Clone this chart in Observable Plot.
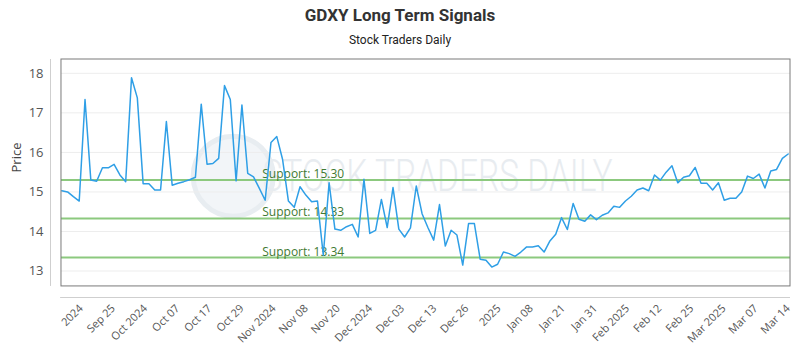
<!DOCTYPE html>
<html><head><meta charset="utf-8">
<script src="https://cdn.jsdelivr.net/npm/d3@7"></script>
<script src="https://cdn.jsdelivr.net/npm/@observablehq/plot@0.6"></script>
<style>
body{margin:0;background:#fff;width:800px;height:350px;overflow:hidden;position:relative}
#title{position:absolute;left:0;top:3px;width:800px;text-align:center;font:bold 17px Roboto, sans-serif;color:#333;line-height:24px}
#subtitle{position:absolute;left:0;top:32px;width:800px;text-align:center;font:12px Roboto, sans-serif;color:#222;line-height:16px}
#chart{position:absolute;left:0;top:50px}
</style></head>
<body>
<div id="title">GDXY Long Term Signals</div>
<div id="subtitle">Stock Traders Daily</div>
<div id="chart"></div>
<script>
const prices = [
15.03, 15.00, 14.88, 14.77, 17.34, 15.30, 15.27, 15.61, 15.61, 15.70,
15.43, 15.26, 17.89, 17.38, 15.21, 15.21, 15.05, 15.05, 16.78, 15.17,
15.22, 15.26, 15.31, 15.37, 17.22, 15.70, 15.72, 15.85, 17.69, 17.34,
15.28, 17.20, 15.47, 15.38, 15.09, 14.79, 16.25, 16.40, 15.82, 14.77,
14.61, 15.13, 14.92, 14.75, 14.77, 13.40, 15.23, 14.06, 14.03, 14.12,
14.18, 13.86, 15.32, 13.95, 14.03, 14.81, 14.10, 15.11, 14.06, 13.86,
14.09, 15.15, 14.45, 14.10, 13.78, 14.68, 13.63, 14.03, 13.91, 13.15,
14.20, 14.20, 13.30, 13.27, 13.10, 13.17, 13.48, 13.44, 13.37, 13.48,
13.61, 13.61, 13.64, 13.48, 13.76, 13.93, 14.35, 14.05, 14.71, 14.31,
14.26, 14.42, 14.30, 14.41, 14.47, 14.64, 14.61, 14.77, 14.89, 15.05,
15.10, 15.03, 15.43, 15.30, 15.50, 15.66, 15.23, 15.37, 15.41, 15.62,
15.22, 15.22, 15.05, 15.23, 14.79, 14.84, 14.84, 15.00, 15.40, 15.34,
15.45, 15.10, 15.53, 15.57, 15.85, 15.96
];
const supportLevels = [15.30, 14.33, 13.34];
const yTickValues = [13, 14, 15, 16, 17, 18];
const xTickLabels = ["2024","Sep 25","Oct 2024","Oct 07","Oct 17","Oct 29","Nov 2024","Nov 08","Nov 20","Dec 2024","Dec 03","Dec 13","Dec 26","2025","Jan 08","Jan 21","Jan 31","Feb 2025","Feb 12","Feb 25","Mar 2025","Mar 07","Mar 14"];

const last = prices.length - 1;
const tickStep = 5.53;
const xTickPos = xTickLabels.map((_, k) => last - (xTickLabels.length - 1 - k) * tickStep);
const labelOf = new Map(xTickPos.map((p, k) => [p, xTickLabels[k]]));
const data = prices.map((v, i) => ({i, v}));

const fx1 = -0.05, fx2 = 125.4, fy1 = 12.61, fy2 = 18.35;

const chart = Plot.plot({
  width: 800, height: 300,
  marginLeft: 50, marginRight: 10, marginTop: 9, marginBottom: 53,
  x: {domain: [-1.94, 125.4]},
  y: {domain: [12.33, 18.35]},
  style: {fontFamily: "'Open Sans', sans-serif", background: "#fff", overflow: "visible"},
  marks: [
    Plot.dot([0], {x: 29.5, y: 15.4, r: 40, fill: "#f2f5f8", stroke: "#e8edf1", strokeWidth: 5}),
    Plot.text(["STOCK TRADERS DAILY"], {x: 64.66, y: 15.37, text: d => d, fontSize: 44, fontWeight: 300, fill: "#e8ecf0", fontFamily: "Roboto, sans-serif", className: "wm"}),
    Plot.ruleY(yTickValues, {x1: fx1, x2: fx2, stroke: "#ededed"}),
    Plot.ruleY(supportLevels, {x1: fx1, x2: fx2, stroke: "#8cc97e", strokeWidth: 2}),
    Plot.text(supportLevels, {x: 34.5, y: d => d, text: d => `Support: ${d.toFixed(2)}`, textAnchor: "start", lineAnchor: "bottom", dy: -2, fill: "#3f7a32", fontSize: 12}),
    Plot.line(data, {x: "i", y: "v", stroke: "#2f9fe6", strokeWidth: 1.5}),
    Plot.rect([0], {x1: fx1, x2: fx2, y1: fy1, y2: fy2, fill: "none", stroke: "#7a7a7a"}),
    Plot.ruleX([-1.94], {y1: fy1, y2: fy2, stroke: "#cfcfcf"}),
    Plot.ruleY([12.33], {x1: -0.2, x2: fx2, stroke: "#cfcfcf"}),
    Plot.axisY(yTickValues, {anchor: "left", tickSize: 0, tickPadding: 7, label: null, fontSize: 13, fill: "#555"}),
    Plot.axisX(xTickPos, {anchor: "bottom", tickSize: 0, tickPadding: 9, tickRotate: -45, tickFormat: d => labelOf.get(d), label: null, fontSize: 11, fill: "#555"}),
    Plot.text(["Price"], {frameAnchor: "left", dx: -34, dy: -6, rotate: -90, text: d => d, fontSize: 13, fill: "#444"})
  ]
});
chart.querySelectorAll(".wm text").forEach(t => {
  t.setAttribute("textLength", 350);
  t.setAttribute("lengthAdjust", "spacingAndGlyphs");
});
document.getElementById("chart").appendChild(chart);
</script>
</body></html>
